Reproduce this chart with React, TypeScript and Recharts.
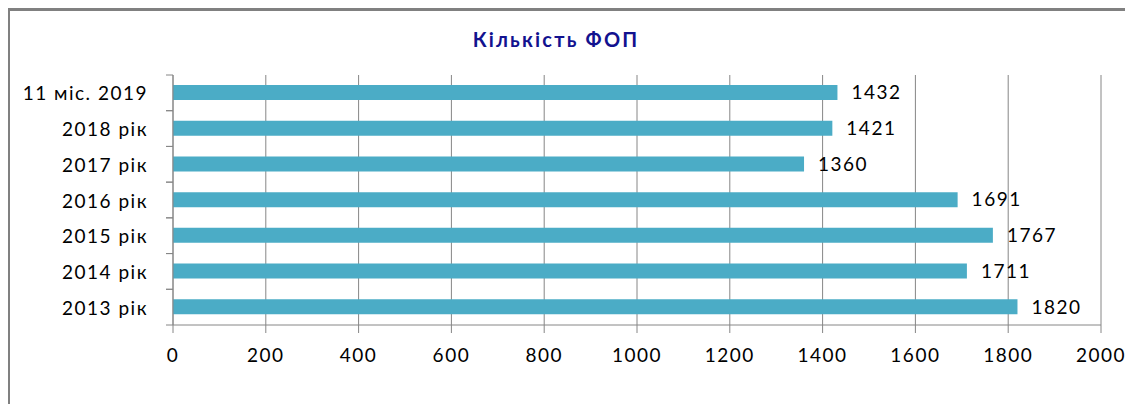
import { useEffect } from "react";
import { Bar, BarChart, CartesianGrid, LabelList, XAxis, YAxis } from "recharts";

const categories = [
  "2013 рік",
  "2014 рік",
  "2015 рік",
  "2016 рік",
  "2017 рік",
  "2018 рік",
  "11 міс. 2019",
];
const counts = [1820, 1711, 1767, 1691, 1360, 1421, 1432];
const xTicks = [0, 200, 400, 600, 800, 1000, 1200, 1400, 1600, 1800, 2000];

const data = categories.map((name, i) => ({ name, value: counts[i] }));

const FONT = "Lato, 'Open Sans', sans-serif";
const GRAY = "#868686";
const SPACING = 1.5;

// Excel-style category tick: boundary marks plus right-aligned label
function CategoryTick(props: any) {
  const { x, y, payload } = props;
  const axisX = x + 25;
  const half = payload.offset || 0;
  return (
    <g>
      <line x1={axisX - 7} x2={axisX} y1={y - half} y2={y - half} stroke={GRAY} />
      <line x1={axisX - 7} x2={axisX} y1={y + half} y2={y + half} stroke={GRAY} />
      <text
        x={x}
        y={y}
        textAnchor="end"
        dominantBaseline="central"
        fill="#000"
        fontSize={19}
        fontFamily={FONT}
        letterSpacing={SPACING}
      >
        {payload.value}
      </text>
    </g>
  );
}

export default function App() {
  useEffect(() => {
    document.documentElement.style.overflow = "hidden";
    document.body.style.overflow = "hidden";
  }, []);

  return (
    <div style={{ position: "relative", width: 1125, height: 396, overflow: "hidden" }}>
      <div
        style={{
          position: "absolute",
          left: -1,
          top: 0,
          width: 1126,
          height: 396,
          borderTop: "3px solid #808080",
          borderLeft: "3px solid #808080",
          boxSizing: "border-box",
        }}
      />
      <div
        style={{
          position: "absolute",
          left: 0,
          top: 19,
          width: 1096,
          textAlign: "center",
          fontFamily: FONT,
          fontWeight: "bold",
          fontSize: 20,
          letterSpacing: 2.2,
          color: "#12128f",
        }}
      >
        Кількість ФОП
      </div>
      <BarChart
        width={1125}
        height={396}
        data={data}
        layout="vertical"
        margin={{ top: 67, right: 32, left: 0, bottom: 39 }}
        barSize={15}
        style={{ display: "block" }}
      >
        <CartesianGrid horizontal={false} stroke={GRAY} strokeDasharray="" />
        <XAxis
          type="number"
          domain={[0, 2000]}
          ticks={xTicks}
          interval={0}
          height={40}
          tickSize={8}
          tickMargin={16}
          axisLine={{ stroke: GRAY }}
          tickLine={{ stroke: GRAY }}
          tick={{ fill: "#000", fontSize: 19, fontFamily: FONT, letterSpacing: SPACING }}
        />
        <YAxis
          type="category"
          dataKey="name"
          reversed
          width={165}
          tickSize={0}
          tickMargin={25}
          tickLine={false}
          axisLine={{ stroke: GRAY }}
          tick={<CategoryTick />}
          interval={0}
        />
        <Bar dataKey="value" fill="#4BACC6" isAnimationActive={false}>
          <LabelList
            dataKey="value"
            position="right"
            offset={14}
            fill="#000"
            fontSize={19}
            fontFamily={FONT}
            letterSpacing={SPACING}
          />
        </Bar>
      </BarChart>
    </div>
  );
}
